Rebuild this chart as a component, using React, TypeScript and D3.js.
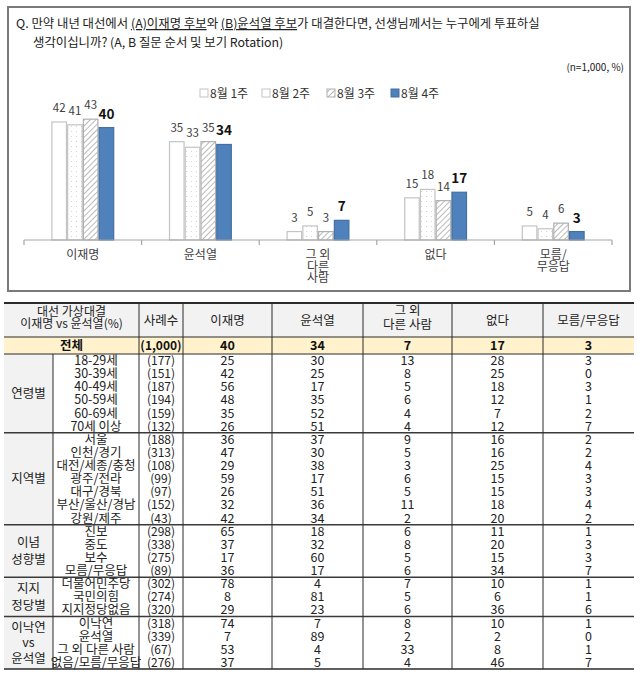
import React from 'react'
import * as d3 from 'd3'

// 차트 데이터
const categories = ['이재명', '윤석열', '그 외 다른 사람', '없다', '모름/무응답']
const categoryLines = [['이재명'], ['윤석열'], ['그 외', '다른', '사람'], ['없다'], ['모름/', '무응답']]
const series = ['8월 1주', '8월 2주', '8월 3주', '8월 4주']
const week1 = [42, 35, 3, 15, 5]
const week2 = [41, 33, 5, 18, 4]
const week3 = [43, 35, 3, 14, 6]
const week4 = [40, 34, 7, 17, 3]

// 표 데이터
const headerCols = [['사례수'], ['이재명'], ['윤석열'], ['그 외', '다른 사람'], ['없다'], ['모름/무응답']]
const totalN = '(1,000)'
const totalValues = [40, 34, 7, 17, 3]

const groupNames = [['연령별'], ['지역별'], ['이념', '성향별'], ['지지', '정당별'], ['이낙연', 'vs', '윤석열']]

const ageLabels = ['18-29세', '30-39세', '40-49세', '50-59세', '60-69세', '70세 이상']
const ageN = [177, 151, 187, 194, 159, 132]
const ageValues = [[25, 30, 13, 28, 3], [42, 25, 8, 25, 0], [56, 17, 5, 18, 3], [48, 35, 6, 12, 1], [35, 52, 4, 7, 2], [26, 51, 4, 12, 7]]

const regionLabels = ['서울', '인천/경기', '대전/세종/충청', '광주/전라', '대구/경북', '부산/울산/경남', '강원/제주']
const regionN = [188, 313, 108, 99, 97, 152, 43]
const regionValues = [[36, 37, 9, 16, 2], [47, 30, 5, 16, 2], [29, 38, 3, 25, 4], [59, 17, 6, 15, 3], [26, 51, 5, 15, 3], [32, 36, 11, 18, 4], [42, 34, 2, 20, 2]]

const ideologyLabels = ['진보', '중도', '보수', '모름/무응답']
const ideologyN = [298, 338, 275, 89]
const ideologyValues = [[65, 18, 6, 11, 1], [37, 32, 8, 20, 3], [17, 60, 5, 15, 3], [36, 17, 6, 34, 7]]

const partyLabels = ['더불어민주당', '국민의힘', '지지정당없음']
const partyN = [302, 274, 320]
const partyValues = [[78, 4, 7, 10, 1], [8, 81, 5, 6, 1], [29, 23, 6, 36, 6]]

const lnyLabels = ['이낙연', '윤석열', '그 외 다른 사람', '없음/모름/무응답']
const lnyN = [318, 339, 67, 276]
const lnyValues = [[74, 7, 8, 10, 1], [7, 89, 2, 2, 0], [53, 4, 33, 8, 1], [37, 5, 4, 46, 7]]

const groups = [
    { labels: ageLabels, n: ageN, values: ageValues },
    { labels: regionLabels, n: regionN, values: regionValues },
    { labels: ideologyLabels, n: ideologyN, values: ideologyValues },
    { labels: partyLabels, n: partyN, values: partyValues },
    { labels: lnyLabels, n: lnyN, values: lnyValues },
]

const FONT = '"Noto Sans CJK KR", "Noto Sans", sans-serif'
const seriesData = [week1, week2, week3, week4]
const seriesFill = ['#ffffff', 'url(#dots)', 'url(#hatch)', '#4f81bd']
const seriesStroke = ['#c4c4c4', '#c4c4c4', '#b0b0b0', '#43709f']

const App = () => {
    // 막대 차트 스케일
    const x0 = d3.scaleBand().domain(categories).range([24, 612]).padding(0)
    const groupW = 63
    const x1 = d3.scaleBand().domain(series).range([0, groupW])
    const y = d3.scaleLinear().domain([0, 50]).range([240, 99.5])
    const baseY = y(0)

    // 표 레이아웃
    const colX = [4, 53, 139, 183, 272, 363, 452, 543, 634]
    const headTop = 303, headBot = 337, totalBot = 354
    const rowH = 13.125
    let start = 0
    const groupStarts = groups.map(g => { const s = start; start += g.labels.length; return s })
    const rowY = (i: number) => totalBot + i * rowH
    const tableBot = rowY(start)
    const colCenter = (c: number) => (colX[c] + colX[c + 1]) / 2

    const legendX = [200, 262, 327, 391]

    return (
        <div style={{ position: 'absolute', left: 0, top: 0 }}>
            <svg width={640} height={675} style={{ display: 'block', fontFamily: FONT }}>
                <defs>
                    <pattern id="dots" width={5} height={5} patternUnits="userSpaceOnUse">
                        <rect width={5} height={5} fill="#ffffff" />
                        <circle cx={1.5} cy={1.5} r={0.5} fill="#c8c8c8" />
                    </pattern>
                    <pattern id="hatch" width={4} height={4} patternUnits="userSpaceOnUse" patternTransform="rotate(45)">
                        <rect width={4} height={4} fill="#ffffff" />
                        <line x1={0} y1={0} x2={0} y2={4} stroke="#a8a8a8" strokeWidth={1.6} />
                    </pattern>
                </defs>

                {/* 차트 박스 */}
                <rect x={8} y={7} width={622} height={284} fill="#ffffff" stroke="#7a7a7a" strokeWidth={2} />

                <text x={16} y={28} fontSize={12.4} fill="#222">
                    Q. 만약 내년 대선에서 <tspan style={{ textDecoration: 'underline' }}>(A)이재명 후보</tspan>와 <tspan style={{ textDecoration: 'underline' }}>(B)윤석열 후보</tspan>가 대결한다면, 선생님께서는 누구에게 투표하실
                </text>
                <text x={33} y={47} fontSize={12.4} fill="#222">생각이십니까? (A, B 질문 순서 및 보기 Rotation)</text>
                <text x={624} y={71} fontSize={10} fill="#222" textAnchor="end">(n=1,000, %)</text>

                {/* 범례 */}
                {series.map((s, i) => (
                    <g key={s}>
                        <rect x={legendX[i]} y={89} width={8} height={8} fill={i === 1 ? '#ffffff' : seriesFill[i]} stroke={seriesStroke[i]} strokeWidth={1} />
                        <text x={legendX[i] + 10} y={97.5} fontSize={12} fill="#333">{s}</text>
                    </g>
                ))}

                {/* 막대 */}
                {categories.map((c, ci) => {
                    const gx = (x0(c) as number) + (x0.bandwidth() - groupW) / 2
                    return (
                        <g key={c}>
                            {series.map((s, si) => {
                                const v = seriesData[si][ci]
                                const bx = gx + (x1(s) as number)
                                const bw = x1.bandwidth()
                                const last = si === 3
                                return (
                                    <g key={s}>
                                        <rect x={bx + 0.6} y={y(v)} width={bw - 1.2} height={baseY - y(v)}
                                            fill={seriesFill[si]} stroke={seriesStroke[si]} strokeWidth={1.2} />
                                        <text x={bx + bw / 2} y={y(v) - (last ? 9 : 10)} textAnchor="middle"
                                            fontSize={last ? 13.5 : 11.5} fontWeight={last ? 700 : 400}
                                            fill={last ? '#111' : '#404040'}>{v}</text>
                                    </g>
                                )
                            })}
                            {categoryLines[ci].map((t, li) => (
                                <text key={li} x={(x0(c) as number) + x0.bandwidth() / 2} y={259 + li * 11.5}
                                    textAnchor="middle" fontSize={12} fill="#404040">{t}</text>
                            ))}
                        </g>
                    )
                })}

                {/* x축 */}
                <line x1={24} x2={612} y1={baseY} y2={baseY} stroke="#a6a6a6" strokeWidth={1.2} />
                {[...categories.map(c => x0(c) as number), 612].map((tx, i) => (
                    <line key={i} x1={tx} x2={tx} y1={baseY} y2={baseY + 5} stroke="#a6a6a6" strokeWidth={1.2} />
                ))}

                {/* 표 배경 */}
                <rect x={colX[0]} y={headTop} width={colX[8] - colX[0]} height={headBot - headTop} fill="#f2f2f2" />
                <rect x={colX[0]} y={headBot} width={colX[8] - colX[0]} height={totalBot - headBot} fill="#fff2cc" />
                <rect x={colX[0]} y={totalBot} width={colX[1] - colX[0]} height={tableBot - totalBot} fill="#f2f2f2" />

                {/* 헤더 */}
                <text x={(colX[0] + colX[2]) / 2} y={316} textAnchor="middle" fontSize={12} fill="#222">대선 가상대결</text>
                <text x={(colX[0] + colX[2]) / 2} y={328} textAnchor="middle" fontSize={12} fill="#222">이재명 vs 윤석열(%)</text>
                {headerCols.map((lines, i) => lines.map((t, li) => (
                    <text key={i + '-' + li} x={colCenter(i + 2)} textAnchor="middle" fontSize={12.5} fill="#222"
                        y={lines.length === 1 ? 324.5 : 315 + li * 13.5}>{t}</text>
                )))}

                {/* 전체 */}
                <text x={(colX[0] + colX[2]) / 2} y={350} textAnchor="middle" fontSize={12.5} fontWeight={700} fill="#111">전체</text>
                <text x={colCenter(2)} y={350} textAnchor="middle" fontSize={12} fontWeight={700} fill="#111">{totalN}</text>
                {totalValues.map((v, i) => (
                    <text key={i} x={colCenter(i + 3)} y={350} textAnchor="middle" fontSize={12.5} fontWeight={700} fill="#111">{v}</text>
                ))}

                {/* 본문 */}
                {groups.map((g, gi) => {
                    const s = groupStarts[gi]
                    const top = rowY(s), bot = rowY(s + g.labels.length)
                    const mid = (top + bot) / 2
                    const names = groupNames[gi]
                    const gap = names.length === 3 ? 15.5 : 17
                    return (
                        <g key={gi}>
                            {names.map((t, li) => (
                                <text key={li} x={colCenter(0)} y={mid + 4.5 + (li - (names.length - 1) / 2) * gap}
                                    textAnchor="middle" fontSize={12.5} fill="#222">{t}</text>
                            ))}
                            {g.labels.map((lab, ri) => {
                                const ty = rowY(s + ri) + rowH / 2 + 4.5
                                return (
                                    <g key={ri}>
                                        <text x={colCenter(1)} y={ty} textAnchor="middle" fontSize={12.5} fill="#222">{lab}</text>
                                        <text x={colCenter(2)} y={ty} textAnchor="middle" fontSize={12} fill="#222">({g.n[ri]})</text>
                                        {g.values[ri].map((v, vi) => (
                                            <text key={vi} x={colCenter(vi + 3)} y={ty} textAnchor="middle" fontSize={12.5} fill="#222">{v}</text>
                                        ))}
                                    </g>
                                )
                            })}
                            {gi > 0 && <line x1={colX[0]} x2={colX[8]} y1={top} y2={top} stroke="#3a3a3a" strokeWidth={1.5} />}
                        </g>
                    )
                })}

                {/* 표 선 */}
                <line x1={colX[0]} x2={colX[8]} y1={headTop} y2={headTop} stroke="#2a2a2a" strokeWidth={2} />
                <line x1={colX[0]} x2={colX[8]} y1={headBot} y2={headBot} stroke="#2a2a2a" strokeWidth={1.2} />
                <line x1={colX[0]} x2={colX[8]} y1={totalBot} y2={totalBot} stroke="#2a2a2a" strokeWidth={1.2} />
                <line x1={colX[0]} x2={colX[8]} y1={tableBot} y2={tableBot} stroke="#2a2a2a" strokeWidth={1.5} />
                <line x1={colX[1]} x2={colX[1]} y1={totalBot} y2={tableBot} stroke="#2a2a2a" strokeWidth={1} />
                {colX.slice(2, 8).map((cx, i) => (
                    <line key={i} x1={cx} x2={cx} y1={headTop} y2={tableBot} stroke="#2a2a2a" strokeWidth={1} />
                ))}
            </svg>
        </div>
    )
}

export default App
